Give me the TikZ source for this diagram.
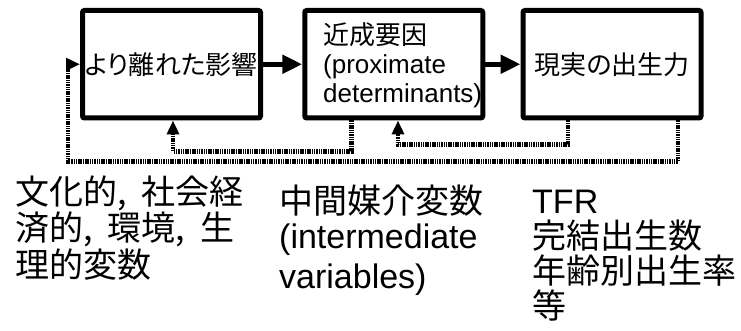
\documentclass[tikz,border=0pt]{standalone}
\usepackage{fontspec}
\setmainfont{Liberation Sans}
\newfontfamily\jp{Noto Sans CJK JP}[RawFeature=+palt]
\usetikzlibrary{arrows.meta}
\newcommand{\sepcomma}{,\hspace{0.45em}}

\begin{document}
\begin{tikzpicture}[x=1pt, y=-1pt,
  stage/.style={draw=black, fill=white, line width=5pt, rounded corners=2pt,
    minimum width=178pt, minimum height=107.5pt, inner sep=0pt,
    font=\fontsize{26}{29}\selectfont},
  stagetext/.style={anchor=base west, inner sep=0pt, align=left,
    font=\fontsize{26}{29}\selectfont},
  flow/.style={line width=5pt, -{Triangle[length=20pt,width=18pt]}},
  feedback/.style={line width=4.5pt, dash pattern=on 1.5pt off 0.8pt,
    -{Triangle[length=14pt,width=12pt]}},
  caption/.style={anchor=base west, inner sep=0pt, align=left,
    font=\fontsize{34}{35}\selectfont}]

\useasboundingbox (0,0) rectangle (741,331);

% the three stages (multi-line texts are placed by their last baseline)
\node[stage] (far)  at (171.5,64.25) {\jp より離れた影響};
\node[stage] (prox) at (393.75,64.25) {};
\node[stagetext] (proxtext) at (323,103) {{\jp 近成要因}\\(proximate\\determinants)};
\node[stage] (real) at (612,64.25) {\jp 現実の出生力};

% forward flow
\draw[flow] (far.east) -- (prox.west);
\draw[flow] (prox.east) -- (real.west);

% feedback routes
\coordinate (outerR) at (678,161.5);
\coordinate (outerL) at (68,161.5);
\coordinate (backA) at (351.3,151.3);
\coordinate (backAend) at (173,151.3);
\coordinate (backB) at (568,144.7);
\coordinate (backBend) at (398,144.7);

\draw[feedback] (real.south -| outerR) |- (outerL) |- (far.west);
\draw[feedback] (prox.south -| backA) |- (backAend) -- (far.south -| backAend);
\draw[feedback] (real.south -| backB) |- (backBend) -- (prox.south -| backBend);

% captions under each stage
\node[caption] (factors) at (15,277) {\jp 文化的\sepcomma 社会経\\\jp 済的\sepcomma 環境\sepcomma 生\\\jp 理的変数};
\node[caption] (inter) at (279,288) {{\jp 中間媒介変数}\\(intermediate\\[5pt]variables)};
\node[caption] (outcome) at (532,318) {TFR\\{\jp 完結出生数}\\{\jp 年齢別出生率}\\{\jp 等}};
\end{tikzpicture}
\end{document}
